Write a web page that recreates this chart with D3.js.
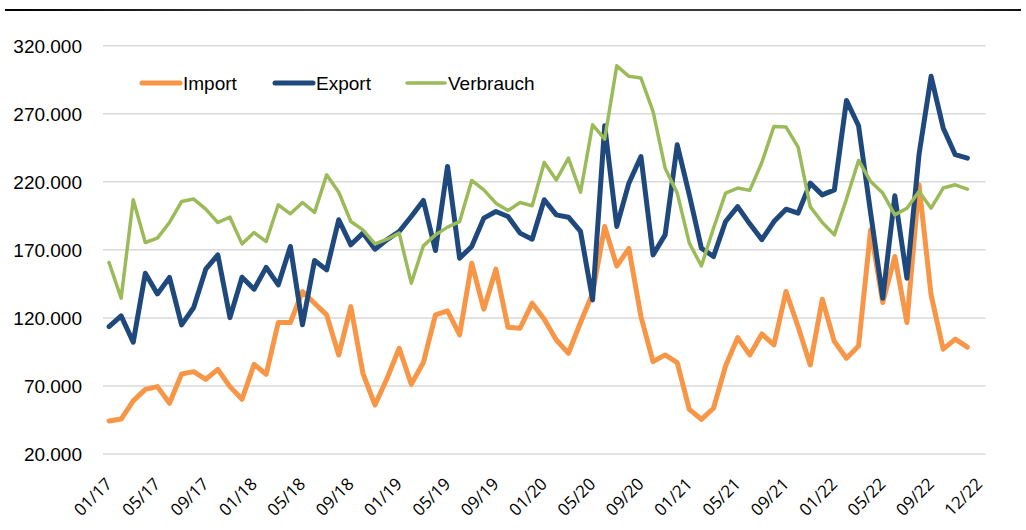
<!DOCTYPE html>
<html>
<head>
<meta charset="utf-8">
<script src="https://cdn.jsdelivr.net/npm/d3@7"></script>
<style>
  body { margin: 0; background: #fff; }
  svg { display: block; }
</style>
</head>
<body>
<script>
// monthly values, 01/17 .. 12/22
var months = [];
for (var yr = 17; yr <= 22; yr++) {
  for (var m = 1; m <= 12; m++) months.push((m < 10 ? "0" + m : "" + m) + "/" + yr);
}

var importVals = [44300,45700,59000,67500,69500,57300,78800,80500,74900,82200,
  69500,60200,85900,78600,116600,116600,139300,130800,122200,92800,
  128300,79300,56000,75600,97700,71200,87200,122200,125100,107500,
  160200,126400,155800,113100,112400,130800,119000,103800,94000,116600,
  138100,187200,158100,171000,121000,87900,92800,87200,52800,45500,
  53600,84700,105500,92800,108200,100200,139400,113500,85400,133700,
  102600,90400,99400,184700,131300,165100,116600,217800,136900,97000,
  104400,98500];

var exportVals = [113600,121500,102100,152800,137600,149700,114900,127600,155800,166300,
  120200,149900,141100,157100,144300,172500,114900,162200,155300,192100,
  173700,182300,170500,177500,183500,194500,206300,169500,231300,163900,
  172500,193300,198200,194500,182300,177800,206800,195700,194000,183500,
  133200,261200,187200,219000,238600,166300,181000,247200,210400,171200,
  165100,190800,201800,189100,177500,190800,199900,197000,219000,210400,
  214100,279800,261200,197000,134500,209700,149200,239900,297500,259600,
  239900,237400];

var verbrauchVals = [160700,134500,206800,175400,178600,190100,205500,207300,199900,190100,
  194000,174400,182700,176100,203100,196500,204800,197500,225100,212300,
  190800,184700,174400,177800,182300,145500,172900,181000,186700,190800,
  221000,214100,204300,198900,204800,202400,234200,221400,237400,212300,
  261900,251400,305300,297500,296200,271700,230000,211700,174900,158200,
  185900,211700,215400,213700,234200,260700,260200,245500,201800,190100,
  181000,207300,235700,220200,211700,195700,200600,212900,200600,215400,
  217800,214600];

// axis labels every 4 months, plus the closing label in the extra slot
var tickIdx = [0,4,8,12,16,20,24,28,32,36,40,44,48,52,56,60,64,68,72];
var tickLabels = ["01/17","05/17","09/17","01/18","05/18","09/18","01/19","05/19","09/19",
  "01/20","05/20","09/20","01/21","05/21","09/21","01/22","05/22","09/22","12/22"];
var yTicks = [20000,70000,120000,170000,220000,270000,320000];

var seriesNames = ["Import", "Export", "Verbrauch"];
var seriesColors = ["#F79646", "#1F497D", "#9BBB59"];
var seriesWidths = [5, 5, 3.5];
var seriesData = [importVals, exportVals, verbrauchVals];

var W = 1026, H = 530;
var svg = d3.select("body").append("svg").attr("width", W).attr("height", H);

// top rule
var grad = svg.append("defs").append("linearGradient").attr("id", "rule");
grad.append("stop").attr("offset", "0%").attr("stop-color", "#000");
grad.append("stop").attr("offset", "30%").attr("stop-color", "#444");
grad.append("stop").attr("offset", "90%").attr("stop-color", "#333");
grad.append("stop").attr("offset", "100%").attr("stop-color", "#111");
svg.append("rect").attr("x", 5).attr("y", 9).attr("width", 1016).attr("height", 2)
  .attr("fill", "url(#rule)");

var x = d3.scaleLinear().domain([-0.5, 72.5]).range([103, 985.5]);
var y = d3.scaleLinear().domain([20000, 320000]).range([454, 45.7]);
var fmt = d3.formatLocale({decimal: ",", thousands: ".", grouping: [3]}).format(",.0f");

// gridlines
svg.append("g").selectAll("line").data(yTicks).enter().append("line")
  .attr("x1", x.range()[0]).attr("x2", x.range()[1])
  .attr("y1", function (d) { return y(d); }).attr("y2", function (d) { return y(d); })
  .attr("stroke", "#d9d9d9").attr("stroke-width", 1.5);

// y labels
svg.append("g").selectAll("text").data(yTicks).enter().append("text")
  .attr("x", 82).attr("y", function (d) { return y(d); })
  .attr("dy", "0.36em")
  .attr("text-anchor", "end")
  .style("font-family", "'Liberation Sans', Arial, sans-serif")
  .style("font-size", "19px")
  .attr("fill", "#000")
  .text(function (d) { return fmt(d); });

// x labels
svg.append("g").selectAll("text").data(tickIdx).enter().append("text")
  .attr("transform", function (d) { return "translate(" + (x(d) + 4) + ",485) rotate(-45)"; })
  .attr("text-anchor", "end")
  .style("font-family", "'Open Sans', sans-serif")
  .style("font-size", "17px")
  .attr("fill", "#000")
  .text(function (d, i) { return tickLabels[i]; });

// lines
var line = d3.line()
  .x(function (d, i) { return x(i); })
  .y(function (d) { return y(d); });

seriesData.forEach(function (vals, k) {
  svg.append("path").datum(vals)
    .attr("d", line)
    .attr("fill", "none")
    .attr("stroke", seriesColors[k])
    .attr("stroke-width", seriesWidths[k])
    .attr("stroke-linejoin", "round")
    .attr("stroke-linecap", "round");
});

// legend
var legX = [142, 275, 407];
var leg = svg.append("g").selectAll("g").data(seriesNames).enter().append("g")
  .attr("transform", function (d, i) { return "translate(" + legX[i] + ",83)"; });
leg.append("line").attr("x1", 0).attr("x2", 38).attr("y1", 0).attr("y2", 0)
  .attr("stroke", function (d, i) { return seriesColors[i]; })
  .attr("stroke-width", function (d, i) { return seriesWidths[i]; })
  .attr("stroke-linecap", "round");
leg.append("text").attr("x", 41).attr("y", 0).attr("dy", "0.36em")
  .style("font-family", "'Liberation Sans', Arial, sans-serif")
  .style("font-size", "19px")
  .attr("fill", "#000")
  .text(function (d) { return d; });
</script>
</body>
</html>
